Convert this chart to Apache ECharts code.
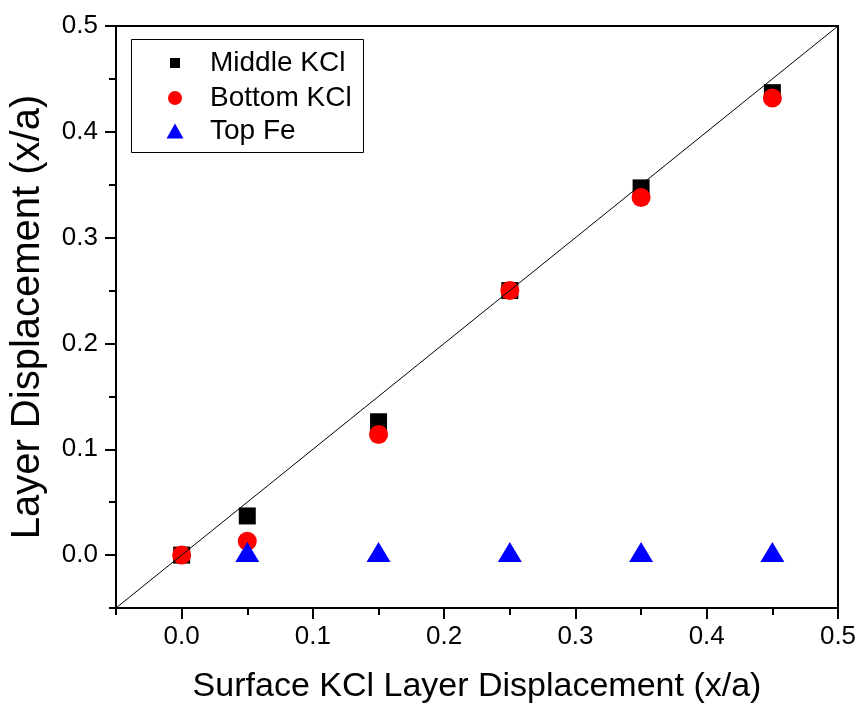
<!DOCTYPE html>
<html>
<head>
<meta charset="utf-8">
<script src="https://cdn.jsdelivr.net/npm/echarts@6/dist/echarts.min.js"></script>
<style>html,body{margin:0;padding:0;background:#fff;}#c{width:861px;height:709px;}</style>
</head>
<body>
<div id="c"></div>
<script>
var xValues = [0, 0.05, 0.15, 0.25, 0.35, 0.45];
var middleKCl = [0, 0.037, 0.126, 0.25, 0.347, 0.437];
var bottomKCl = [0, 0.013, 0.114, 0.25, 0.338, 0.432];
var feX = [0.05, 0.15, 0.25, 0.35, 0.45];
var topFe = [0, 0, 0, 0, 0];
var majorTicks = [0, 0.1, 0.2, 0.3, 0.4, 0.5];
var minorTicks = [-0.05, 0.05, 0.15, 0.25, 0.35, 0.45];
var diagonal = [[-0.05, -0.05], [0.5, 0.5]];
var names = ['Middle KCl', 'Bottom KCl', 'Top Fe'];

function pairs(xs, ys) { return xs.map(function (x, i) { return [x, ys[i]]; }); }

var FONT = 'Liberation Sans, Arial, sans-serif';
var chart = echarts.init(document.getElementById('c'), null, {renderer: 'canvas'});

function mainAxis(isX, name) {
  var a = {
    type: 'value', min: -0.05, max: 0.5, interval: 0.05,
    position: isX ? 'bottom' : 'left',
    axisLine: {show: true, onZero: false, lineStyle: {color: '#000', width: 2}},
    axisTick: {show: true, inside: false, length: 11, customValues: majorTicks, lineStyle: {color: '#000', width: 2}},
    axisLabel: {show: true, customValues: majorTicks, color: '#000', fontSize: 26, fontFamily: FONT,
      margin: isX ? 16 : 18, formatter: function (v) { return v.toFixed(1); }},
    splitLine: {show: false},
    name: name, nameLocation: 'middle',
    nameGap: isX ? 62 : 68,
    nameTextStyle: {color: '#000', fontSize: isX ? 34 : 40, fontFamily: FONT}
  };
  return a;
}
function minorAxis(isX) {
  return {
    type: 'value', min: -0.05, max: 0.5, interval: 0.05,
    position: isX ? 'bottom' : 'left',
    axisLine: {show: false, onZero: false},
    axisTick: {show: true, inside: false, length: 7, customValues: minorTicks, lineStyle: {color: '#000', width: 2}},
    axisLabel: {show: false},
    splitLine: {show: false}
  };
}
function legendFor(name, top, w, h, pad) {
  return {
    data: [name], left: 175 - w / 2, top: top, padding: 0,
    itemWidth: w, itemHeight: h, selectedMode: false,
    textStyle: {color: '#000', fontSize: 28, fontFamily: FONT, lineHeight: 30, padding: [0, 0, 0, pad]}
  };
}

chart.setOption({
  animation: false,
  backgroundColor: '#fff',
  grid: {left: 116, right: 23, top: 26, bottom: 98, show: true, borderColor: '#000', borderWidth: 2, backgroundColor: 'transparent'},
  xAxis: [mainAxis(true, 'Surface KCl Layer Displacement (x/a)'), minorAxis(true)],
  yAxis: [mainAxis(false, 'Layer Displacement (x/a)'), minorAxis(false)],
  legend: [
    legendFor(names[0], 48, 10, 10, 25),
    legendFor(names[1], 83, 14, 14, 23),
    legendFor(names[2], 116, 17, 15, 21.5)
  ],
  graphic: [{type: 'rect', shape: {x: 131.5, y: 39.5, width: 232, height: 113}, style: {fill: 'none', stroke: '#000', lineWidth: 1}, z: 10}],
  series: [
    {name: names[0], type: 'scatter', data: pairs(xValues, middleKCl), symbol: 'rect', symbolSize: 17,
      itemStyle: {color: '#000', opacity: 1}, z: 2},
    {name: names[1], type: 'scatter', data: pairs(xValues, bottomKCl), symbol: 'circle', symbolSize: 19,
      itemStyle: {color: '#ff0000', opacity: 1}, z: 3},
    {name: names[2], type: 'scatter', data: pairs(feX, topFe), symbol: 'triangle', symbolSize: [24, 20], symbolOffset: [0, -3],
      itemStyle: {color: '#0000ff', opacity: 1}, z: 4},
    {name: 'diag', type: 'line', data: diagonal, symbol: 'none', lineStyle: {color: '#000', width: 1}, z: 5, silent: true}
  ]
});
</script>
</body>
</html>
